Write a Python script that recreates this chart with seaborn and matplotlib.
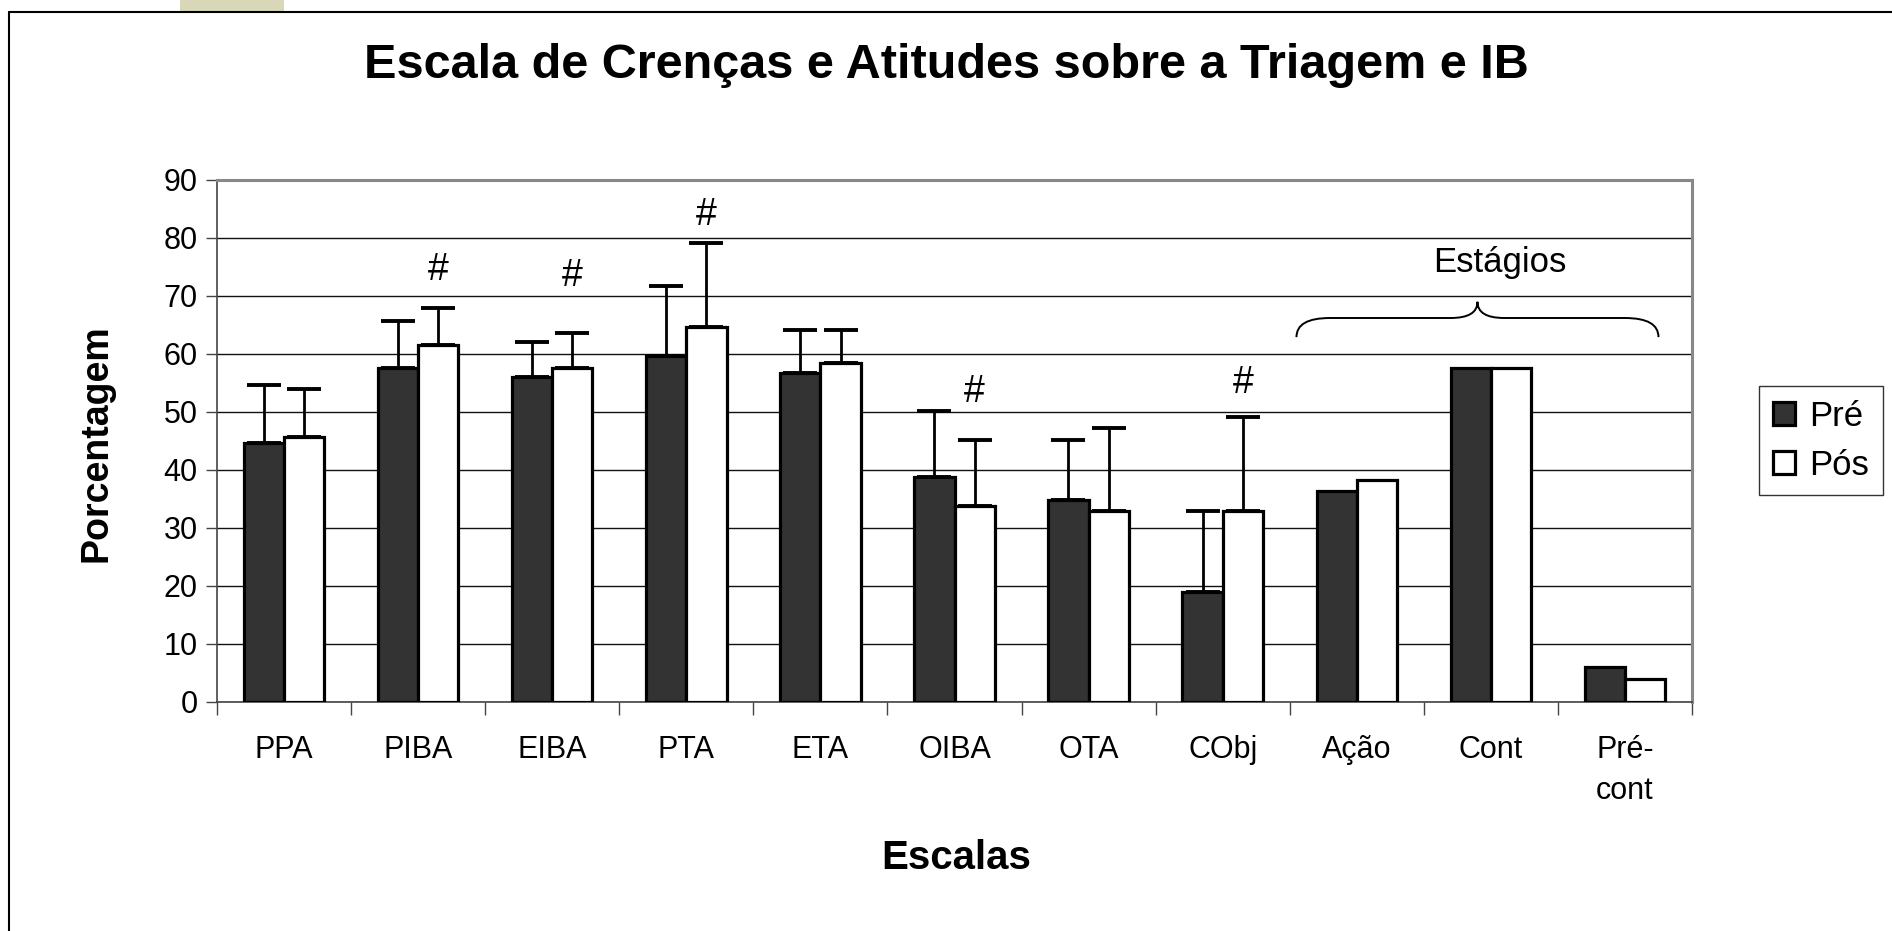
import numpy as np
import pandas as pd
import matplotlib.pyplot as plt
import seaborn as sns
from matplotlib.path import Path
from matplotlib.patches import PathPatch, Rectangle
from matplotlib.lines import Line2D

escalas = ["PPA", "PIBA", "EIBA", "PTA", "ETA", "OIBA", "OTA", "CObj", "Ação", "Cont", "Pré-\ncont"]
pre = [44.7, 57.6, 56.1, 59.7, 56.8, 38.8, 34.8, 18.9, 36.4, 57.6, 6.0]
pos = [45.6, 61.5, 57.6, 64.6, 58.5, 33.8, 32.9, 32.9, 38.3, 57.6, 4.0]
pre_err = [10.0, 8.0, 6.0, 12.0, 7.4, 11.3, 10.4, 14.0, np.nan, np.nan, np.nan]
pos_err = [8.4, 6.5, 6.0, 14.5, 5.6, 11.3, 14.3, 16.2, np.nan, np.nan, np.nan]
# escalas com diferença significativa (marcadas com #)
signif = ["PIBA", "EIBA", "PTA", "OIBA", "CObj"]
signif_y = [74.4, 73.4, 84.0, 53.4, 55.0]

df = pd.DataFrame({
    "Escala": escalas * 2,
    "Porcentagem": pre + pos,
    "Momento": ["Pré"] * len(pre) + ["Pós"] * len(pos),
})

sns.set_style("white")
plt.rcParams['font.family'] = ['Liberation Sans', 'DejaVu Sans']
plt.rcParams.update({"text.color": "black", "axes.labelcolor": "black",
                     "xtick.color": "black", "ytick.color": "black"})

fig = plt.figure(figsize=(18.92, 9.31), dpi=100)
ax = fig.add_axes([0.1147, 0.246, 0.7796, 0.5607])

sns.barplot(data=df, x="Escala", y="Porcentagem", hue="Momento",
            palette={"Pré": "#333333", "Pós": "white"}, edgecolor="black",
            linewidth=2.3, width=0.6, gap=0, errorbar=None, ax=ax, zorder=3)

# barras de erro só para cima
for cont, err in zip(ax.containers, [pre_err, pos_err]):
    xs = np.array([p.get_x() + p.get_width() / 2 for p in cont])
    hs = np.array([p.get_height() for p in cont])
    e = np.array(err)
    ok = ~np.isnan(e)
    ax.errorbar(xs[ok], hs[ok], yerr=[np.zeros(ok.sum()), e[ok]], fmt="none",
                ecolor="black", elinewidth=2.0, capsize=12, capthick=2.8, zorder=4)

for nome, y in zip(signif, signif_y):
    p = ax.containers[1][escalas.index(nome)]
    ax.text(p.get_x() + p.get_width() / 2, y, "#", ha="center", va="center", fontsize=27)

# chave "Estágios"
x0, x1, xc = 7.55, 10.25, 8.90
ye, ym, yt = 62.9, 66.2, 69.0
verts = [(x0, ye), (x0, ym), (x0 + 0.25, ym), (xc - 0.2, ym), (xc, ym), (xc, yt),
         (xc, ym), (xc + 0.2, ym), (x1 - 0.25, ym), (x1, ym), (x1, ye)]
codes = [Path.MOVETO, Path.CURVE3, Path.CURVE3, Path.LINETO, Path.CURVE3, Path.CURVE3,
         Path.CURVE3, Path.CURVE3, Path.LINETO, Path.CURVE3, Path.CURVE3]
ax.add_patch(PathPatch(Path(verts, codes), fill=False, lw=1.4, color="black", zorder=4))
ax.text(9.07, 75.7, "Estágios", ha="center", va="center", fontsize=25)

ax.set_xlim(-0.5, 10.5)
ax.set_ylim(0, 90)
ax.set_yticks(range(0, 91, 10))
ax.yaxis.grid(True, color="#111111", lw=1.0, zorder=0)
ax.set_axisbelow(True)
ax.set_xticks(np.arange(-0.5, 11, 1), minor=True)
ax.tick_params(axis="x", which="major", length=0, pad=24, labelsize=22)
ax.tick_params(axis="x", which="minor", length=9, width=1.0, color="#444444", direction="out", bottom=True)
ax.tick_params(axis="y", length=8, width=1.0, color="#444444", direction="out", left=True, labelsize=22, pad=6)
for lab in ax.get_xticklabels():
    lab.set_linespacing(1.45)
for s in ["top", "right"]:
    ax.spines[s].set_color("#888888")
    ax.spines[s].set_linewidth(2.2)
for s in ["left", "bottom"]:
    ax.spines[s].set_color("#444444")
    ax.spines[s].set_linewidth(1.2)

ax.set_xlabel("Escalas", fontsize=29, fontweight="bold", va="center")
ax.xaxis.set_label_coords(0.501, -0.298)
ax.set_ylabel("Porcentagem", fontsize=27, fontweight="bold", va="center")
ax.yaxis.set_label_coords(-0.0817, 0.496)
fig.text(0.5, 1 - 66 / 931, "Escala de Crenças e Atitudes sobre a Triagem e IB",
         ha="center", va="center", fontsize=35, fontweight="bold")

leg = ax.legend(loc="upper left", bbox_to_anchor=(1759 / 1892, 1 - 386 / 931),
                bbox_transform=fig.transFigure, borderaxespad=0, fontsize=25,
                handlelength=0.65, handleheight=0.65, handletextpad=0.4,
                labelspacing=0.45, borderpad=0.4,
                fancybox=False, edgecolor="black", frameon=True, title=None)
leg.get_frame().set_linewidth(1.0)

# moldura do slide
fig.add_artist(Rectangle((180 / 1892, 1 - 12 / 931), 104 / 1892, 12 / 931,
                         transform=fig.transFigure, color="#d8d8b8", lw=0))
fig.add_artist(Line2D([9 / 1892, 1], [1 - 12 / 931] * 2, color="black", lw=1.5))
fig.add_artist(Line2D([9 / 1892] * 2, [0, 1 - 12 / 931], color="black", lw=1.5))

fig.savefig("out.png", dpi=100)
